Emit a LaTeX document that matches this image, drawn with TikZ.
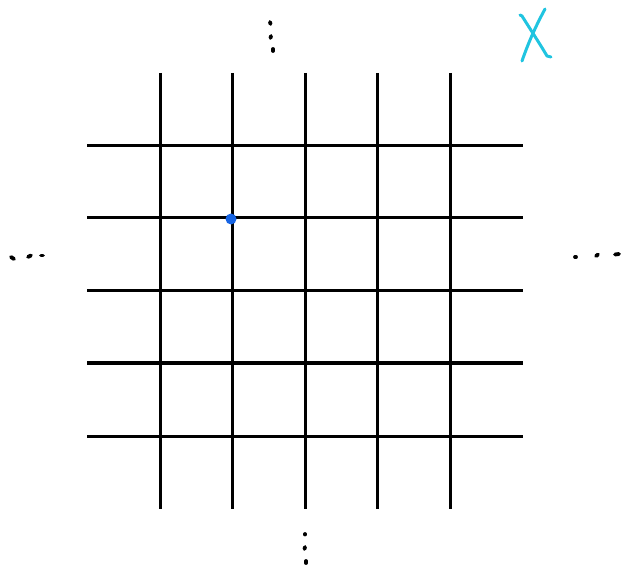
\documentclass[tikz,border=0pt]{standalone}
\usepackage{xcolor}
\usepackage{tikz}
\definecolor{sitecolor}{RGB}{22,100,228}
\definecolor{markcolor}{RGB}{32,196,224}
\tikzset{
  gridline/.style={line width=3pt, black},
  dotmark/.style={line width=3.8pt, line cap=round, black},
}

\begin{document}
\begin{tikzpicture}[x=1pt, y=-1pt]
  \useasboundingbox (0,0) rectangle (632,569);

  % --- lattice lines ---
  \foreach \x in {160,232,305,377,450}
    \draw[gridline] (\x,73) -- (\x,509);
  \foreach \y in {146,218,291,363,436}
    \draw[gridline] (87,\y) -- (523,\y);

  % marked site
  \node[circle, fill=sitecolor, inner sep=0pt, minimum size=11pt] (site) at (231,219) {};

  % --- continuation dots ---
  % top
  \draw[dotmark] (270,22) -- (270.5,24);
  \draw[dotmark] (271,36) -- (270.5,38);
  \draw[dotmark] (273,49) -- (273,51);
  % bottom
  \draw[dotmark] (305,534) -- (305,534.5);
  \draw[dotmark] (305,547) -- (304.5,549);
  \draw[dotmark] (306,561) -- (306,563);
  % left
  \draw[dotmark] (11,257) -- (14,259);
  \draw[dotmark] (28,257) -- (31,255.5);
  \draw[dotmark] (41,255.5) -- (43,255.5);
  % right
  \draw[dotmark] (575,257) -- (576,257);
  \draw[dotmark] (596,256) -- (598,254.5);
  \draw[dotmark] (615,254.5) -- (619,254);

  % --- label X ---
  \draw[markcolor, line width=3pt, line cap=round, line join=round]
    (520,15) -- (522,16) .. controls (532,32) and (540,44) .. (547,56) -- (551,57);
  \draw[markcolor, line width=3pt, line cap=round]
    (545,9) .. controls (538,22) and (530,38) .. (522,61);
\end{tikzpicture}
\end{document}
